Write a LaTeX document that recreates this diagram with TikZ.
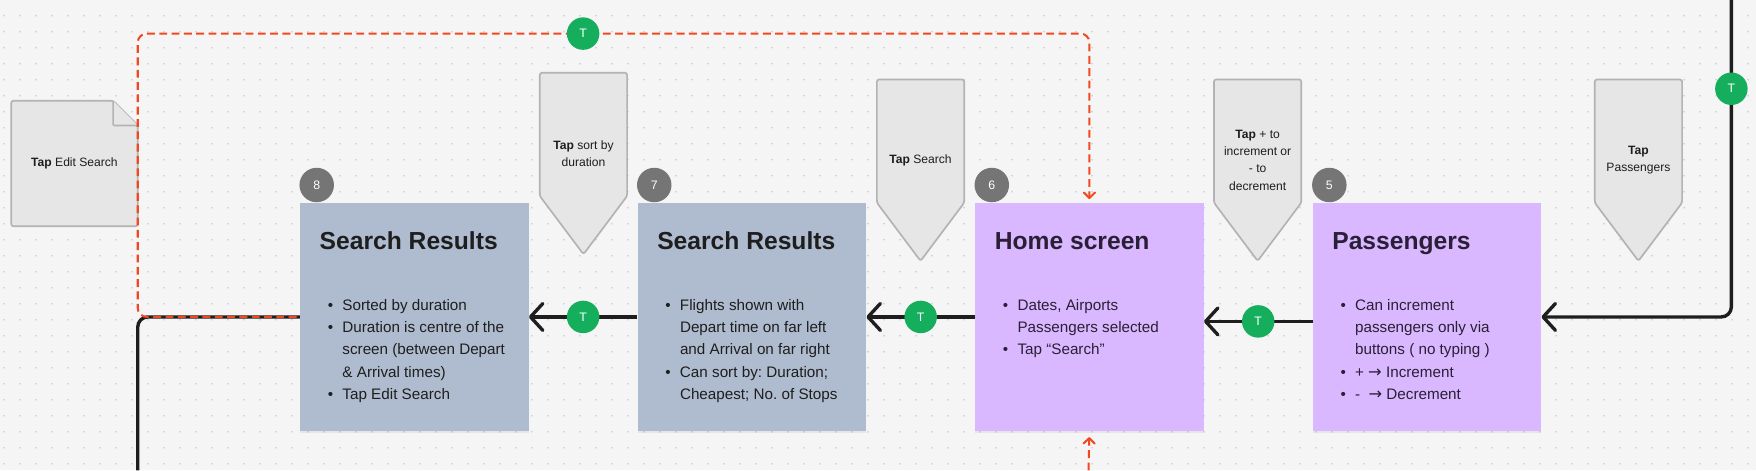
\documentclass[tikz,border=0pt]{standalone}
\usepackage{fontspec}
\setmainfont{Liberation Sans}
\newfontfamily\arrowfont{DejaVu Sans}
\usepackage{xcolor}
\usepackage{tikz}
\usetikzlibrary{arrows.meta, positioning, shadows, calc}

\definecolor{canvasbg}{HTML}{F5F5F5}
\definecolor{griddot}{HTML}{D2D2D2}
\definecolor{resultblue}{HTML}{AFBCCF}
\definecolor{screenpurple}{HTML}{D9B8FF}
\definecolor{notegray}{HTML}{E6E6E6}
\definecolor{noteedge}{HTML}{B3B3B3}
\definecolor{stepgray}{HTML}{757575}
\definecolor{tapgreen}{HTML}{14AE5C}
\definecolor{backred}{HTML}{F24822}
\definecolor{inkdark}{HTML}{1E1E1E}
\definecolor{inkpurple}{HTML}{2A1F36}

\newcommand{\itembul}{\makebox[13pt][l]{\textbullet}}
\newcommand{\itemcont}{\hspace*{13pt}}
\newcommand{\toarrow}{{\arrowfont\fontsize{14.5}{20}\selectfont →}}
\frenchspacing

\begin{document}
\begin{tikzpicture}[x=1pt, y=-1pt,
  screen/.style={rectangle, minimum width=204pt, minimum height=204pt, inner sep=0pt,
    drop shadow={opacity=0.12, shadow xshift=0pt, shadow yshift=-1.5pt}},
  resultbox/.style={screen, fill=resultblue},
  homebox/.style={screen, fill=screenpurple},
  screentitle/.style={anchor=base west, inner sep=0pt, font=\fontsize{22}{26}\selectfont\bfseries},
  bullets/.style={anchor=north west, inner sep=0pt, align=left, font=\fontsize{13.6}{20}\selectfont},
  stepnum/.style={circle, fill=stepgray, text=white, minimum size=30.8pt, inner sep=0pt, font=\fontsize{11}{13}\selectfont},
  tapdot/.style={circle, fill=tapgreen, text=white, minimum size=29pt, inner sep=0pt, font=\fontsize{11}{13}\selectfont},
  tapnote/.style={fill=notegray, draw=noteedge, line width=1.5pt, rounded corners=2pt, line join=round},
  notetext/.style={align=center, text=inkdark, font=\fontsize{10.8}{15.5}\selectfont},
  flow/.style={draw=inkdark, line width=3pt, rounded corners=9pt, -{Straight Barb[length=11pt, width=24pt, round]}},
  backflow/.style={draw=backred, line width=1.8pt, dash pattern=on 7pt off 4pt, rounded corners=8pt, -{Straight Barb[length=5pt, width=10pt, round]}},
]
  \useasboundingbox (0,0) rectangle (1568,420);

  % Canvas with dot grid
  \fill[canvasbg] (0,0) rectangle (1568,420);
  \foreach \i in {0,...,109} {
    \foreach \j in {0,...,28} {
      \fill[griddot] (3.4+14.29*\i, 14+14.29*\j) circle (0.9pt);
    }
  }

  % Screens (flow runs right to left)
  \node[resultbox] (res8) at (370,283) {};
  \node[resultbox, right=97pt of res8] (res7) {};
  \node[homebox, right=97pt of res7] (home6) {};
  \node[homebox, right=97pt of home6] (pass5) {};

  % Step numbers
  \node[stepnum, anchor=south] (n8) at ([xshift=15pt]res8.north west) {8};
  \node[stepnum, anchor=south] (n7) at ([xshift=15pt]res7.north west) {7};
  \node[stepnum, anchor=south] (n6) at ([xshift=15pt]home6.north west) {6};
  \node[stepnum, anchor=south] (n5) at ([xshift=15pt]pass5.north west) {5};

  % Screen titles
  \node[screentitle, text=inkdark] (h8) at ([xshift=17.5pt, yshift=-42pt]res8.north west) {Search Results};
  \node[screentitle, text=inkdark] (h7) at ([xshift=17.5pt, yshift=-42pt]res7.north west) {Search Results};
  \node[screentitle, text=inkpurple] (h6) at ([xshift=17.5pt, yshift=-42pt]home6.north west) {Home screen};
  \node[screentitle, text=inkpurple] (h5) at ([xshift=17.5pt, yshift=-42pt]pass5.north west) {Passengers};

  % Screen notes
  \node[bullets, text=inkdark] (b8) at ([xshift=24.8pt, yshift=-86pt]res8.north west) {%
    \itembul Sorted by duration\\
    \itembul Duration is centre of the\\
    \itemcont screen (between Depart\\
    \itemcont \& Arrival times)\\
    \itembul Tap Edit Search};
  \node[bullets, text=inkdark] (b7) at ([xshift=24.8pt, yshift=-86pt]res7.north west) {%
    \itembul Flights shown with\\
    \itemcont Depart time on far left\\
    \itemcont and Arrival on far right\\
    \itembul Can sort by: Duration;\\
    \itemcont Cheapest; No. of Stops};
  \node[bullets, text=inkpurple] (b6) at ([xshift=24.8pt, yshift=-86pt]home6.north west) {%
    \itembul Dates, Airports\\
    \itemcont Passengers selected\\
    \itembul Tap “Search”};
  \node[bullets, text=inkpurple] (b5) at ([xshift=24.8pt, yshift=-86pt]pass5.north west) {%
    \itembul Can increment\\
    \itemcont passengers only via\\
    \itemcont buttons ( no typing )\\
    \itembul + \toarrow\ Increment\\
    \itembul -\ \ \toarrow\ Decrement};

  % Tap callouts
  \foreach \cx/\ct/\nm/\txt in {521/65/ncsort/{\textbf{Tap} sort by\\duration},
      822/71/ncsearch/{\textbf{Tap} Search},
      1123/71/ncplus/{\textbf{Tap} + to\\increment or\\- to\\decrement},
      1463/71/ncpass/{\textbf{Tap}\\Passengers}} {
    \draw[tapnote] (\cx-39,\ct) -- (\cx+39,\ct) -- (\cx+39,\ct+110) -- (\cx,\ct+162) -- (\cx-39,\ct+110) -- cycle;
    \node[notetext] (\nm) at (\cx,\ct+72) {\txt};
  }

  % Edit search page
  \draw[tapnote] (10,90) -- (101,90) -- (123,112) -- (123,202) -- (10,202) -- cycle;
  \draw[tapnote, rounded corners=1pt] (101,90) -- (101,112) -- (123,112);
  \node[notetext] (editnote) at (66.5,146) {\textbf{Tap} Edit Search};

  % Main flow
  \coordinate (entry) at (1546,0);
  \draw[flow] (entry) |- node[tapdot, pos=0.14] (t5) {T} (pass5.east);
  \draw[flow] ([yshift=-4pt]pass5.west) -- node[tapdot, midway] (t56) {T} ([yshift=-4pt]home6.east);
  \draw[flow] (home6.west) -- node[tapdot, midway] (t67) {T} (res7.east);
  \draw[flow] (res7.west) -- node[tapdot, midway] (t78) {T} (res8.east);
  \coordinate (exit) at (123,420);
  \draw[flow, -] (res8.west) -| (exit);

  % Edit search back to home
  \coordinate (backturn) at (123,30);
  \draw[backflow, shorten <=3pt, shorten >=3pt] (res8.west) -| (backturn) -| node[tapdot, pos=0.234] (tback) {T} (home6.north);
  \coordinate (below) at (972,420);
  \draw[backflow, shorten >=5pt] (below) -- (home6.south);
\end{tikzpicture}
\end{document}
